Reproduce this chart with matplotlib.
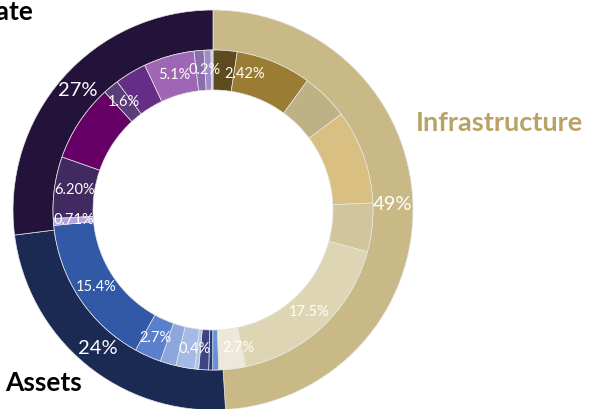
import matplotlib
matplotlib.use('agg')
from matplotlib import pyplot as plt
import numpy as np

plt.rcParams['font.family'] = ['Lato', 'DejaVu Sans']

# outer ring: groups
groups = ['Infrastructure', 'Assets', 'Real Estate']
group_values = [49, 24, 27]
group_labels = ['49%', '24%', '27%']
group_colors = ['#C9B987', '#1B2A53', '#23133A']

# inner ring: sub-categories, clockwise from the top
infra_values = [2.42, 7.6, 4.75, 9.5, 4.9, 17.5, 2.7]
infra_labels = ['2.42%', '', '', '', '', '17.5%', '2.7%']
infra_colors = ['#5D4A1F', '#9A7D32', '#BEB185', '#D9BF82', '#D3C59B', '#DED5B4', '#EEE8DA']

asset_values = [0.6, 0.4, 1.0, 0.4, 1.9, 1.6, 2.7, 15.4]
asset_labels = ['', '', '', '0.4%', '', '', '2.7%', '15.4%']
asset_colors = ['#6A90D5', '#1C3C7C', '#3E4480', '#B4C4E8', '#A4B9E3', '#8DA7DD', '#5A80CD', '#3259A6']

estate_values = [0.71, 6.20, 7.8, 1.6, 3.2, 5.1, 1.0, 0.7, 0.2]
estate_labels = ['0.71%', '6.20%', '', '1.6%', '', '5.1%', '', '', '0.2%']
estate_colors = ['#B3A4DD', '#412A5F', '#660066', '#5A3E7A', '#662D86', '#A066B6', '#8C6DAC', '#A08BC6', '#C8CBEB']

inner_values = infra_values + asset_values + estate_values
inner_labels = infra_labels + asset_labels + estate_labels
inner_colors = infra_colors + asset_colors + estate_colors

# small nudges (degrees) for crowded labels
label_nudge = {0: 8.6, 6: -3.5, 10: 1.5, len(inner_values) - 1: -3.2}

R_OUT, W = 200, 40

fig = plt.figure(figsize=(5.98, 4.09), dpi=100)
ax = fig.add_axes([0, 0, 1, 1])

ax.pie(group_values, radius=R_OUT, colors=group_colors, startangle=90,
       counterclock=False, wedgeprops=dict(width=W, edgecolor='#E6E6E6', linewidth=0.5))
ax.pie(inner_values, radius=R_OUT - W, colors=inner_colors, startangle=90,
       counterclock=False, wedgeprops=dict(width=W, edgecolor='#E6E6E6', linewidth=0.5))


def put_labels(values, labels, r, size, nudge=None):
    frac = np.array(values, dtype=float) / np.sum(values)
    ends = np.cumsum(frac) * 360
    mids = ends - frac * 180
    for i, (m, lab) in enumerate(zip(mids, labels)):
        if not lab:
            continue
        if nudge and i in nudge:
            m = m + nudge[i]
        a = np.deg2rad(90 - m)
        ax.text(r * np.cos(a), r * np.sin(a), lab, color='white', fontsize=size,
                ha='center', va='center')


put_labels(group_values, group_labels, R_OUT - W / 2, 14.5)
put_labels(inner_values, inner_labels, R_OUT - W - 20, 10.5, label_nudge)

ax.text(287, 87, 'Infrastructure', color='#B9A364', fontsize=19.5, fontweight='bold',
        ha='center', va='center')
ax.text(-169, -173, 'Assets', color='black', fontsize=19, fontweight='bold',
        ha='center', va='center')
ax.text(-180, 198, 'Real Estate', color='black', fontsize=19, fontweight='bold',
        ha='right', va='center')

ax.set_xlim(-213, 598 - 213)
ax.set_ylim(210 - 409, 210)
ax.set_aspect('equal')
ax.axis('off')

plt.savefig('out.png', dpi=100)
plt.close()
